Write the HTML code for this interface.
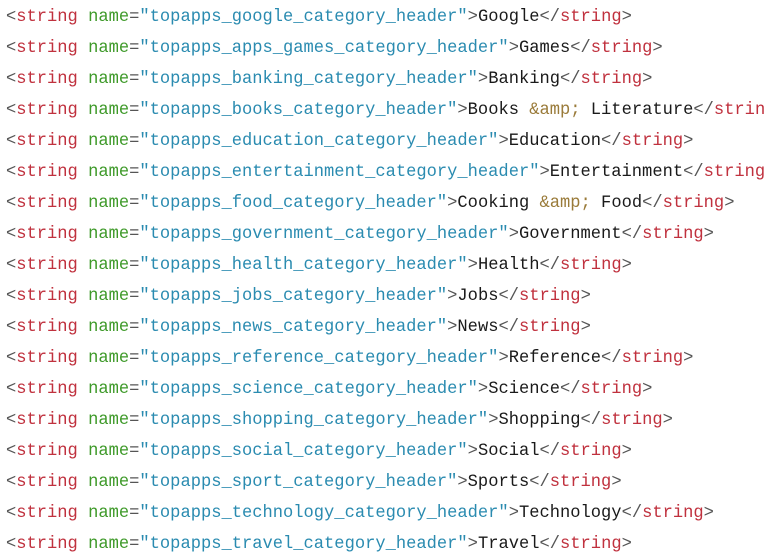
<!DOCTYPE html>
<html><head><meta charset="utf-8"><style>
html,body{margin:0;padding:0;background:#fff;width:764px;height:558px;overflow:hidden}
pre{margin:0;position:absolute;left:6px;top:2px;font-family:"Liberation Mono",monospace;font-size:17.1px;line-height:31px;color:#1a1a1a;white-space:pre}
.p{color:#555}.t{color:#c0313e}.a{color:#3f9a2a}.s{color:#2a8bb0}.e{color:#9a7b3a}
</style></head><body><pre>
<span class="p">&lt;</span><span class="t">string</span> <span class="a">name</span><span class="p">=</span><span class="s">"topapps_google_category_header"</span><span class="p">&gt;</span>Google<span class="p">&lt;/</span><span class="t">string</span><span class="p">&gt;</span>
<span class="p">&lt;</span><span class="t">string</span> <span class="a">name</span><span class="p">=</span><span class="s">"topapps_apps_games_category_header"</span><span class="p">&gt;</span>Games<span class="p">&lt;/</span><span class="t">string</span><span class="p">&gt;</span>
<span class="p">&lt;</span><span class="t">string</span> <span class="a">name</span><span class="p">=</span><span class="s">"topapps_banking_category_header"</span><span class="p">&gt;</span>Banking<span class="p">&lt;/</span><span class="t">string</span><span class="p">&gt;</span>
<span class="p">&lt;</span><span class="t">string</span> <span class="a">name</span><span class="p">=</span><span class="s">"topapps_books_category_header"</span><span class="p">&gt;</span>Books <span class="e">&amp;amp;</span> Literature<span class="p">&lt;/</span><span class="t">string</span><span class="p">&gt;</span>
<span class="p">&lt;</span><span class="t">string</span> <span class="a">name</span><span class="p">=</span><span class="s">"topapps_education_category_header"</span><span class="p">&gt;</span>Education<span class="p">&lt;/</span><span class="t">string</span><span class="p">&gt;</span>
<span class="p">&lt;</span><span class="t">string</span> <span class="a">name</span><span class="p">=</span><span class="s">"topapps_entertainment_category_header"</span><span class="p">&gt;</span>Entertainment<span class="p">&lt;/</span><span class="t">string</span><span class="p">&gt;</span>
<span class="p">&lt;</span><span class="t">string</span> <span class="a">name</span><span class="p">=</span><span class="s">"topapps_food_category_header"</span><span class="p">&gt;</span>Cooking <span class="e">&amp;amp;</span> Food<span class="p">&lt;/</span><span class="t">string</span><span class="p">&gt;</span>
<span class="p">&lt;</span><span class="t">string</span> <span class="a">name</span><span class="p">=</span><span class="s">"topapps_government_category_header"</span><span class="p">&gt;</span>Government<span class="p">&lt;/</span><span class="t">string</span><span class="p">&gt;</span>
<span class="p">&lt;</span><span class="t">string</span> <span class="a">name</span><span class="p">=</span><span class="s">"topapps_health_category_header"</span><span class="p">&gt;</span>Health<span class="p">&lt;/</span><span class="t">string</span><span class="p">&gt;</span>
<span class="p">&lt;</span><span class="t">string</span> <span class="a">name</span><span class="p">=</span><span class="s">"topapps_jobs_category_header"</span><span class="p">&gt;</span>Jobs<span class="p">&lt;/</span><span class="t">string</span><span class="p">&gt;</span>
<span class="p">&lt;</span><span class="t">string</span> <span class="a">name</span><span class="p">=</span><span class="s">"topapps_news_category_header"</span><span class="p">&gt;</span>News<span class="p">&lt;/</span><span class="t">string</span><span class="p">&gt;</span>
<span class="p">&lt;</span><span class="t">string</span> <span class="a">name</span><span class="p">=</span><span class="s">"topapps_reference_category_header"</span><span class="p">&gt;</span>Reference<span class="p">&lt;/</span><span class="t">string</span><span class="p">&gt;</span>
<span class="p">&lt;</span><span class="t">string</span> <span class="a">name</span><span class="p">=</span><span class="s">"topapps_science_category_header"</span><span class="p">&gt;</span>Science<span class="p">&lt;/</span><span class="t">string</span><span class="p">&gt;</span>
<span class="p">&lt;</span><span class="t">string</span> <span class="a">name</span><span class="p">=</span><span class="s">"topapps_shopping_category_header"</span><span class="p">&gt;</span>Shopping<span class="p">&lt;/</span><span class="t">string</span><span class="p">&gt;</span>
<span class="p">&lt;</span><span class="t">string</span> <span class="a">name</span><span class="p">=</span><span class="s">"topapps_social_category_header"</span><span class="p">&gt;</span>Social<span class="p">&lt;/</span><span class="t">string</span><span class="p">&gt;</span>
<span class="p">&lt;</span><span class="t">string</span> <span class="a">name</span><span class="p">=</span><span class="s">"topapps_sport_category_header"</span><span class="p">&gt;</span>Sports<span class="p">&lt;/</span><span class="t">string</span><span class="p">&gt;</span>
<span class="p">&lt;</span><span class="t">string</span> <span class="a">name</span><span class="p">=</span><span class="s">"topapps_technology_category_header"</span><span class="p">&gt;</span>Technology<span class="p">&lt;/</span><span class="t">string</span><span class="p">&gt;</span>
<span class="p">&lt;</span><span class="t">string</span> <span class="a">name</span><span class="p">=</span><span class="s">"topapps_travel_category_header"</span><span class="p">&gt;</span>Travel<span class="p">&lt;/</span><span class="t">string</span><span class="p">&gt;</span></pre>
</body></html>
